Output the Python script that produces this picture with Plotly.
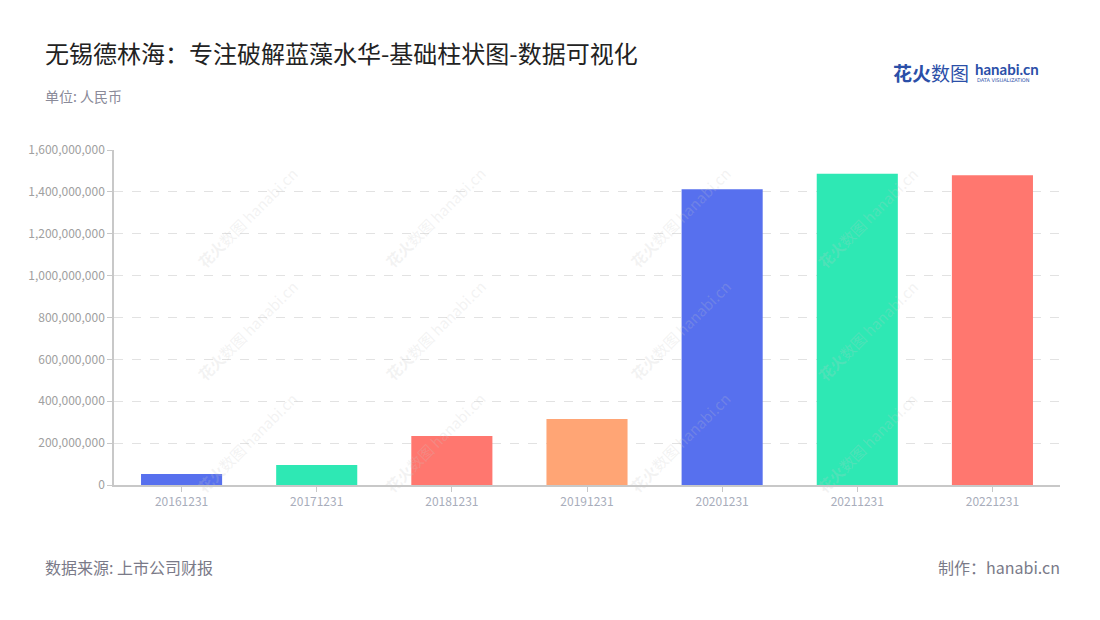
import plotly.graph_objects as go

categories = ["20161231", "20171231", "20181231", "20191231", "20201231", "20211231", "20221231"]
values = [52000000, 95000000, 234000000, 315000000, 1412000000, 1486000000, 1480000000]
colors = ["#5770EE", "#2EE8B4", "#FF776F", "#FFA575", "#5770EE", "#2EE8B4", "#FF776F"]
y_ticks = [0, 200000000, 400000000, 600000000, 800000000, 1000000000, 1200000000, 1400000000, 1600000000]
y_tick_labels = ["0", "200,000,000", "400,000,000", "600,000,000", "800,000,000",
                 "1,000,000,000", "1,200,000,000", "1,400,000,000", "1,600,000,000"]

FONT = "Noto Sans CJK SC"

# page offset compensation (body margin)
OX, OY = 8, 8
L, T, R, B = 114 - OX, 150 - OY, 1060 - OX, 485 - OY
PW, PH = R - L, B - T


def px(x):
    return (x - OX - L) / PW


def py(y):
    return (B - (y - OY)) / PH


fig = go.Figure()
fig.add_trace(go.Bar(
    x=categories, y=values, marker=dict(color=colors, line=dict(width=0)),
    width=0.6, hoverinfo="x+y",
))

annotations = []
for (wx, wy) in [(150, 160), (395, 160), (640, 160), (885, 160),
                 (150, 330), (395, 330), (640, 330), (885, 330),
                 (150, 500), (395, 500), (640, 500), (885, 500)]:
    annotations.append(dict(
        xref="paper", yref="paper", x=px(wx + 40), y=py(wy),
        text="<b>花火</b>数图 hanabi.cn", showarrow=False, textangle=-45,
        font=dict(family=FONT, size=15, color="rgba(200,200,200,0.22)"),
    ))

annotations += [
    dict(xref="paper", yref="paper", x=px(43), y=py(52), xanchor="left", yanchor="middle",
         text="无锡德林海：专注破解蓝藻水华-基础柱状图-数据可视化", showarrow=False,
         font=dict(family=FONT, size=24, color="#222222")),
    dict(xref="paper", yref="paper", x=px(43), y=py(96), xanchor="left", yanchor="middle",
         text="单位: 人民币", showarrow=False,
         font=dict(family=FONT, size=14, color="#8a8a99")),
    dict(xref="paper", yref="paper", x=px(43), y=py(567), xanchor="left", yanchor="middle",
         text="数据来源: 上市公司财报", showarrow=False,
         font=dict(family=FONT, size=16, color="#7a7a88")),
    dict(xref="paper", yref="paper", x=px(1062), y=py(567), xanchor="right", yanchor="middle",
         text="制作：hanabi.cn", showarrow=False,
         font=dict(family=FONT, size=16, color="#7a7a88")),
    dict(xref="paper", yref="paper", x=px(891), y=py(73), xanchor="left", yanchor="middle",
         text="<b>花火</b>数图", showarrow=False,
         font=dict(family=FONT, size=19, color="#2B4FA8")),
    dict(xref="paper", yref="paper", x=px(973), y=py(69), xanchor="left", yanchor="middle",
         text="<b>hanabi.cn</b>", showarrow=False,
         font=dict(family="Lato", size=15, color="#2B4FA8")),
    dict(xref="paper", yref="paper", x=px(975), y=py(80), xanchor="left", yanchor="middle",
         text="DATA VISUALIZATION", showarrow=False,
         font=dict(family="DejaVu Sans", size=5, color="#2B4FA8")),
]

fig.update_layout(
    width=1100, height=620,
    margin=dict(l=L, r=1100 - R, t=T, b=620 - B, autoexpand=False),
    paper_bgcolor="white", plot_bgcolor="white",
    showlegend=False,
    bargap=0.4,
    annotations=annotations,
    xaxis=dict(
        type="category", showgrid=False, showline=True, linecolor="#c8c8c8", linewidth=1.5,
        ticks="outside", ticklen=5, tickcolor="#c8c8c8",
        tickfont=dict(family=FONT, size=12, color="#a8adbb"),
        fixedrange=True,
    ),
    yaxis=dict(
        range=[0, 1600000000], tickvals=y_ticks, ticktext=y_tick_labels,
        showgrid=True, gridcolor="#e2e2e2", griddash="dash", gridwidth=1,
        showline=True, linecolor="#c8c8c8", linewidth=1.5,
        ticks="outside", ticklen=5, tickcolor="#c8c8c8",
        tickfont=dict(family=FONT, size=12, color="#a0a0a0"),
        zeroline=False, fixedrange=True,
    ),
)

fig.write_html("out.html")
